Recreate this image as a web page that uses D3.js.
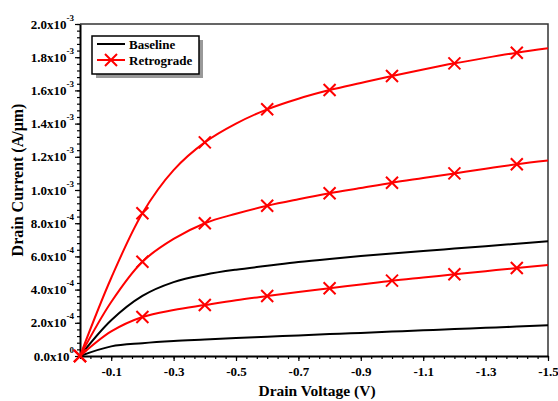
<!DOCTYPE html>
<html>
<head>
<meta charset="utf-8">
<script src="https://cdn.jsdelivr.net/npm/d3@7"></script>
<style>
  body { margin: 0; background: #fff; }
  svg text { font-family: "Liberation Serif", "Times New Roman", serif; font-weight: bold; }
</style>
</head>
<body>
<div id="chart"></div>
<script>
// drain voltage (V) and currents (values are in units of 1e-3 A/um)
const voltage = [0, -0.1, -0.2, -0.3, -0.4, -0.5, -0.6, -0.7, -0.8, -0.9, -1.0, -1.1, -1.2, -1.3, -1.4, -1.5];
const baselineHigh = [0, 0.215, 0.362, 0.445, 0.490, 0.520, 0.543, 0.566, 0.585, 0.602, 0.618, 0.633, 0.647, 0.661, 0.676, 0.691];
const baselineLow  = [0, 0.058, 0.077, 0.090, 0.099, 0.108, 0.116, 0.124, 0.132, 0.139, 0.147, 0.155, 0.162, 0.170, 0.177, 0.185];
const retroHigh = [0, 0.470, 0.860, 1.120, 1.287, 1.400, 1.486, 1.550, 1.602, 1.645, 1.687, 1.726, 1.763, 1.796, 1.827, 1.854];
const retroMid  = [0, 0.325, 0.568, 0.705, 0.800, 0.857, 0.905, 0.944, 0.980, 1.012, 1.044, 1.072, 1.100, 1.128, 1.155, 1.177];
const retroLow  = [0, 0.148, 0.235, 0.277, 0.307, 0.336, 0.361, 0.385, 0.408, 0.431, 0.454, 0.473, 0.492, 0.511, 0.530, 0.548];
const markerVoltage = [0, -0.2, -0.4, -0.6, -0.8, -1.0, -1.2, -1.4];
const xTickValues = [-0.1, -0.3, -0.5, -0.7, -0.9, -1.1, -1.3, -1.5];
const yTickValues = [0, 0.2, 0.4, 0.6, 0.8, 1.0, 1.2, 1.4, 1.6, 1.8, 2.0];
const yTickLabels = ["0.0x10|0", "2.0x10|-4", "4.0x10|-4", "6.0x10|-4", "8.0x10|-4", "1.0x10|-3",
  "1.2x10|-3", "1.4x10|-3", "1.6x10|-3", "1.8x10|-3", "2.0x10|-3"];

let w = 558, h = 401;
let mLeft = 80, mRight = 548, mTop = 24, mBottom = 356;

let svg = d3.select("#chart").append("svg").attr("width", w).attr("height", h);

let xScale = d3.scaleLinear().domain([0, -1.5]).range([mLeft, mRight]);
let yScale = d3.scaleLinear().domain([0, 2.0]).range([mBottom, mTop]);

// frame (top and right)
svg.append("path")
  .attr("d", "M" + mLeft + "," + mTop + "H" + mRight + "V" + mBottom)
  .attr("fill", "none").attr("stroke", "#333").attr("stroke-width", 1.5);

// minor ticks
svg.append("g").attr("transform", "translate(0," + mBottom + ")")
  .call(d3.axisBottom(xScale).tickValues(d3.range(0, 46).map(i => -i / 30)).tickSize(3).tickFormat(""))
  .call(g => g.select(".domain").remove());
svg.append("g").attr("transform", "translate(" + mLeft + ",0)")
  .call(d3.axisLeft(yScale).tickValues(d3.range(0, 51).map(i => i * 0.04)).tickSize(3).tickFormat(""))
  .call(g => g.select(".domain").remove());

// major axes
let xAxis = svg.append("g").attr("id", "x-axis").attr("transform", "translate(0," + mBottom + ")")
  .call(d3.axisBottom(xScale).tickValues(xTickValues).tickSize(5).tickPadding(6).tickSizeOuter(0)
    .tickFormat(d => d.toFixed(1)));
xAxis.selectAll("text").style("font-size", "13px").attr("fill", "#000");

let yAxis = svg.append("g").attr("id", "y-axis").attr("transform", "translate(" + mLeft + ",0)")
  .call(d3.axisLeft(yScale).tickValues(yTickValues).tickSize(5).tickPadding(1).tickSizeOuter(0));
yAxis.selectAll("text").each(function (d, i) {
  let parts = yTickLabels[i].split("|");
  let t = d3.select(this).text("").style("font-size", "13px").attr("fill", "#000");
  t.append("tspan").text(parts[0]);
  t.append("tspan").attr("dy", "-8").style("font-size", "9px").text(parts[1]);
});
svg.selectAll(".domain").attr("stroke-width", 2);
svg.selectAll(".tick line").attr("stroke-width", 1.2);

// axis titles
svg.append("text").attr("x", 317).attr("y", 396).attr("text-anchor", "middle")
  .style("font-size", "15.5px").text("Drain Voltage (V)");
svg.append("text").attr("transform", "translate(23,180) rotate(-90)").attr("text-anchor", "middle")
  .style("font-size", "16px").text("Drain Current (A/\u03bcm)");

// curves
let line = d3.line().x((d, i) => xScale(voltage[i])).y(d => yScale(d)).curve(d3.curveCatmullRom.alpha(0.5));
[baselineHigh, baselineLow].forEach(s => {
  svg.append("path").datum(s).attr("d", line).attr("fill", "none").attr("stroke", "#000").attr("stroke-width", 2);
});
function xMark(g, cx, cy, r) {
  g.append("path")
    .attr("d", "M" + (cx - r) + "," + (cy - r) + "L" + (cx + r) + "," + (cy + r) +
      "M" + (cx - r) + "," + (cy + r) + "L" + (cx + r) + "," + (cy - r))
    .attr("stroke", "#ff0000").attr("stroke-width", 2).attr("fill", "none");
}
[retroHigh, retroMid, retroLow].forEach(s => {
  svg.append("path").datum(s).attr("d", line).attr("fill", "none").attr("stroke", "#ff0000").attr("stroke-width", 2);
  let g = svg.append("g");
  markerVoltage.forEach(v => {
    let i = voltage.indexOf(v);
    xMark(g, xScale(v), yScale(s[i]), 6);
  });
});

// legend
let lg = svg.append("g").attr("transform", "translate(92,36)");
lg.append("rect").attr("x", 4).attr("y", 4).attr("width", 107).attr("height", 38).attr("fill", "#999");
lg.append("rect").attr("width", 107).attr("height", 38).attr("fill", "#fff").attr("stroke", "#000").attr("stroke-width", 1.5);
lg.append("line").attr("x1", 5).attr("x2", 33).attr("y1", 8).attr("y2", 8).attr("stroke", "#000").attr("stroke-width", 2);
lg.append("text").attr("x", 37).attr("y", 13).style("font-size", "13px").text("Baseline");
lg.append("line").attr("x1", 5).attr("x2", 33).attr("y1", 24).attr("y2", 24).attr("stroke", "#ff0000").attr("stroke-width", 2);
xMark(lg, 19, 24, 6);
lg.append("text").attr("x", 37).attr("y", 29).style("font-size", "13px").text("Retrograde");
</script>
</body>
</html>
